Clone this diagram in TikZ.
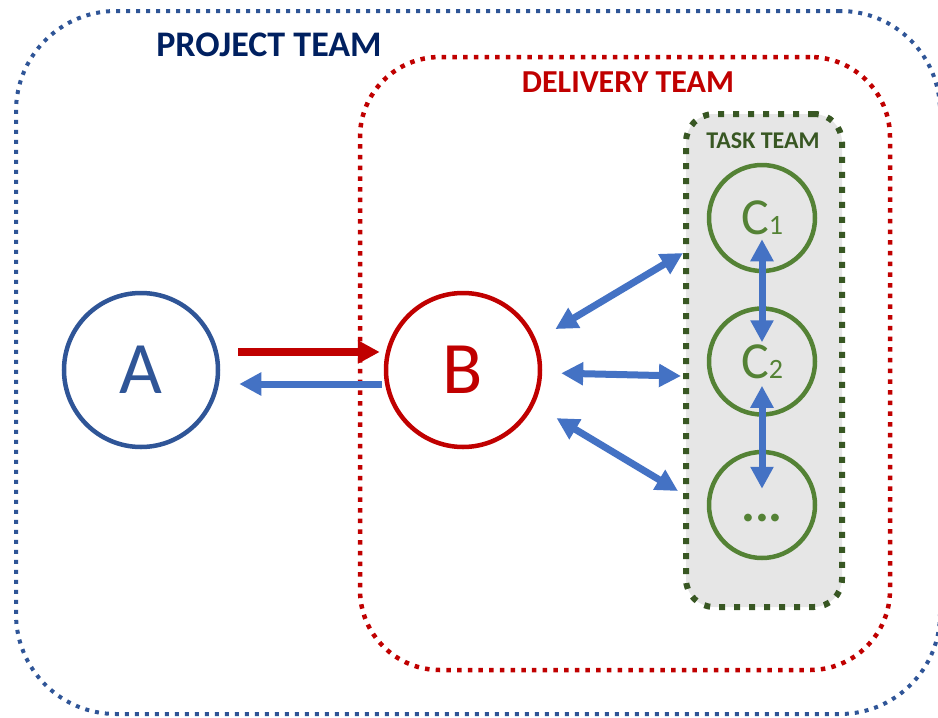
\documentclass[tikz,border=0pt]{standalone}
\usepackage{fontspec}
\setmainfont{Carlito}
\usetikzlibrary{arrows.meta}
\usetikzlibrary{positioning}
\definecolor{navy}{HTML}{002060}
\definecolor{projblue}{HTML}{2F5597}
\definecolor{delivred}{HTML}{C00000}
\definecolor{taskgreen}{HTML}{385723}
\definecolor{membgreen}{HTML}{548235}
\definecolor{linkblue}{HTML}{4472C4}
\definecolor{taskgray}{HTML}{E6E6E6}
\tikzset{
	>={Triangle[length=22pt,width=22pt]},
	team/.style={
		rectangle,
		draw, line width=4pt,
		dash pattern=on 4pt off 6pt,
		inner sep=0pt},
	teamlabel/.style={
		font=\bfseries\fontsize{#1}{#1}\selectfont,
		inner sep=0pt},
	member/.style={
		circle,
		draw, line width=4.5pt,
		inner sep=0pt},
	% fill=white,
	forward/.style={draw=delivred, line width=8pt, ->},
	backward/.style={draw=linkblue, line width=7pt, ->},
	twoway/.style={draw=linkblue, line width=7pt, <->},
}
\begin{document}
\begin{tikzpicture}
	[x=1pt, y=-1pt,
	node distance=33pt]
	\useasboundingbox (0,0) rectangle (938,718);

	\node[team, draw=projblue, rounded corners=100pt,
		minimum width=924pt, minimum height=703pt] (project) at (478,362.5) {};
	\node[team, draw=delivred, line width=4.5pt, dash pattern=on 4.5pt off 6.2pt,
		rounded corners=80pt,
		minimum width=530pt, minimum height=613pt] (delivery) at (625,363.5) {};
	\node[team, draw=taskgreen, fill=taskgray, line width=6pt, dash pattern=on 6pt off 9pt,
		rounded corners=28pt,
		minimum width=156pt, minimum height=493pt] (task) at (764,360.5) {};

	\node[teamlabel=36, text=navy] (projlabel) at (269,45) {PROJECT TEAM};
	\node[teamlabel=32, text=delivred] (delivlabel) at (628,82) {DELIVERY TEAM};
	\node[teamlabel=24, text=taskgreen] (tasklabel) at (763,141) {TASK TEAM};

	\node[member, draw=projblue, text=projblue, minimum size=154pt,
		font=\fontsize{74}{74}\selectfont] (A) at (141,370) {A};
	\node[member, draw=delivred, text=delivred, minimum size=154pt,
		font=\fontsize{74}{74}\selectfont] (B) at (463,370) {B};

	\node[member, draw=membgreen, text=membgreen, minimum size=106pt,
		font=\fontsize{52}{52}\selectfont] (C1) at (762,218) {C{\fontsize{28}{28}\selectfont 1}};
	\node[member, draw=membgreen, text=membgreen, minimum size=106pt,
		font=\fontsize{52}{52}\selectfont, below=of C1] (C2) {C{\fontsize{28}{28}\selectfont 2}};
	\node[member, draw=membgreen, text=membgreen, minimum size=106pt,
		font=\bfseries\fontsize{52}{52}\selectfont, below=of C2] (C3) {\vphantom{C}...};

	\coordinate (toC1) at (683,253);
	\coordinate (toC2) at (681,376);
	\coordinate (toC3) at (678,491);

	\draw[forward, shorten <=18pt, shorten >=4pt] ([yshift=18pt]A.east) -- ([yshift=18pt]B.west);
	\draw[backward, shorten <=2pt, shorten >=19pt] ([yshift=-14pt]B.west) -- ([yshift=-14pt]A.east);

	\draw[twoway, shorten <=22pt] (B.22) -- (toC1);
	\draw[twoway, shorten <=19pt] (B.-2) -- (toC2);
	\draw[twoway, shorten <=26pt] (B.-26) -- (toC3);

	\draw[twoway, shorten <=-34pt, shorten >=-36pt] (C1) -- (C2);
	\draw[twoway, shorten <=-31pt, shorten >=-39pt] (C2) -- (C3);

\end{tikzpicture}
\end{document}
